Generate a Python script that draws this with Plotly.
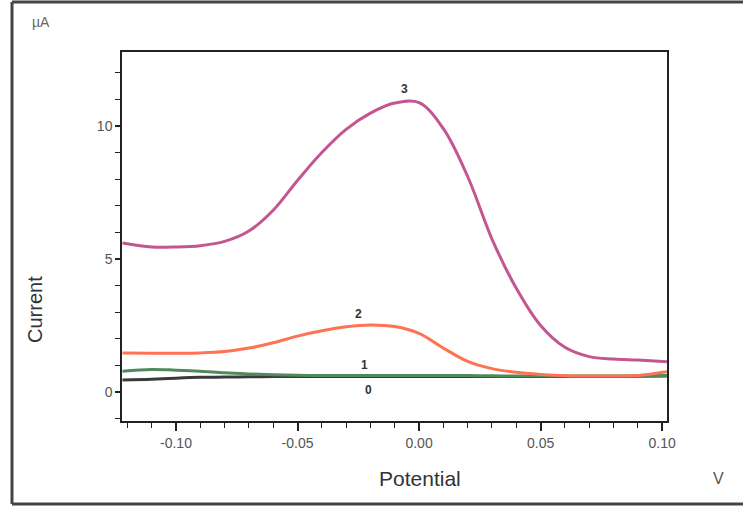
import plotly.graph_objects as go

# Potential (V) and current (µA)
potential = [-0.122, -0.11, -0.10, -0.09, -0.08, -0.07, -0.06, -0.05, -0.04, -0.03,
             -0.02, -0.01, 0.0, 0.01, 0.02, 0.03, 0.04, 0.05, 0.06, 0.07, 0.08, 0.09, 0.102]

current_0 = [0.45, 0.48, 0.52, 0.55, 0.56, 0.57, 0.58, 0.58, 0.58, 0.58, 0.58, 0.58,
             0.58, 0.58, 0.58, 0.58, 0.58, 0.58, 0.58, 0.58, 0.58, 0.59, 0.6]
current_1 = [0.78, 0.85, 0.82, 0.78, 0.72, 0.68, 0.65, 0.63, 0.62, 0.62, 0.62, 0.62,
             0.62, 0.62, 0.62, 0.61, 0.6, 0.6, 0.6, 0.6, 0.6, 0.61, 0.62]
current_2 = [1.47, 1.46, 1.46, 1.47, 1.52, 1.65, 1.85, 2.1, 2.3, 2.45, 2.52, 2.46,
             2.2, 1.65, 1.15, 0.88, 0.74, 0.66, 0.61, 0.6, 0.6, 0.62, 0.76]
current_3 = [5.6, 5.45, 5.45, 5.5, 5.66, 6.05, 6.83, 7.95, 9.0, 9.87, 10.48, 10.86,
             10.88, 9.9, 8.1, 5.75, 3.9, 2.5, 1.68, 1.33, 1.24, 1.2, 1.14]

x_tickvals = [-0.10, -0.05, 0.0, 0.05, 0.10]
x_ticktext = ["-0.10", "-0.05", "0.00", "0.05", "0.10"]
y_tickvals = [0, 5, 10]
y_ticktext = ["0", "5", "10"]

series = [("0", current_0, "#3a3a3a"),
          ("1", current_1, "#4f8a5c"),
          ("2", current_2, "#ff7353"),
          ("3", current_3, "#c4568f")]

label_pos = {"0": (-0.021, 0.07), "1": (-0.0225, 1.02), "2": (-0.025, 2.95), "3": (-0.006, 11.4)}

fig = go.Figure()
for name, ys, col in series:
    fig.add_trace(go.Scatter(x=potential, y=ys, mode="lines", name=name,
                             line=dict(color=col, width=3, shape="spline", smoothing=1.0),
                             showlegend=False, hoverinfo="skip"))

for name, (lx, ly) in label_pos.items():
    fig.add_annotation(x=lx, y=ly, text="<b>%s</b>" % name, showarrow=False,
                       font=dict(size=12, color="#333333", family="Liberation Sans, Arial"))

fig.update_layout(
    width=743, height=508,
    margin=dict(l=122, r=76, t=52, b=87),
    paper_bgcolor="white", plot_bgcolor="white",
    font=dict(family="Liberation Sans, Arial", color="#555555", size=14),
    xaxis=dict(range=[-0.1222, 0.102], tickmode="array", tickvals=x_tickvals,
               ticktext=x_ticktext, showgrid=False, zeroline=False,
               showline=True, linecolor="#222222", linewidth=1.5, mirror=True,
               ticks="outside", ticklen=8, tickwidth=1.5, tickcolor="#222222",
               minor=dict(dtick=0.01, tick0=0, ticks="outside", ticklen=5, tickwidth=1.2,
                          tickcolor="#222222", showgrid=False),
               tickfont=dict(size=14, color="#555555")),
    yaxis=dict(range=[-1.09, 12.78], tickmode="array", tickvals=y_tickvals,
               ticktext=y_ticktext, showgrid=False, zeroline=False,
               showline=True, linecolor="#222222", linewidth=1.5, mirror=True,
               ticks="outside", ticklen=5, tickwidth=1.5, tickcolor="#222222",
               minor=dict(dtick=1, tick0=0, ticks="outside", ticklen=5, tickwidth=1.2,
                          tickcolor="#222222", showgrid=False),
               tickfont=dict(size=14, color="#555555")),
)

W, L, B, H = 545, 122, 421, 369

# axis titles & unit labels
fig.add_annotation(xref="paper", yref="paper", x=(420 - L) / W, y=-(478 - B) / H,
                   text="Potential", showarrow=False, xanchor="center", yanchor="middle",
                   font=dict(size=21, color="#333333"))
fig.add_annotation(xref="paper", yref="paper", x=(718 - L) / W, y=-(478 - B) / H,
                   text="V", showarrow=False, xanchor="center", yanchor="middle",
                   font=dict(size=16, color="#555555"))
fig.add_annotation(xref="paper", yref="paper", x=(35 - L) / W, y=(B - 310) / H,
                   text="Current", showarrow=False, textangle=-90,
                   xanchor="center", yanchor="middle",
                   font=dict(size=20, color="#333333"))
fig.add_annotation(xref="paper", yref="paper", x=(41 - L) / W, y=(B - 22) / H,
                   text="µA", showarrow=False, xanchor="center", yanchor="middle",
                   font=dict(size=14, color="#666666"))

# outer frame
for (xa, ya, xb, yb) in [(12, 2, 743, 2), (12, 504, 743, 504), (12, 2, 12, 504)]:
    fig.add_shape(type="line", xref="paper", yref="paper",
                  x0=(xa - L) / W, x1=(xb - L) / W, y0=(B - ya) / H, y1=(B - yb) / H,
                  line=dict(color="#444444", width=3))

fig.write_html("out.html", config={"displayModeBar": False},
               post_script="document.body.style.margin='0';")
